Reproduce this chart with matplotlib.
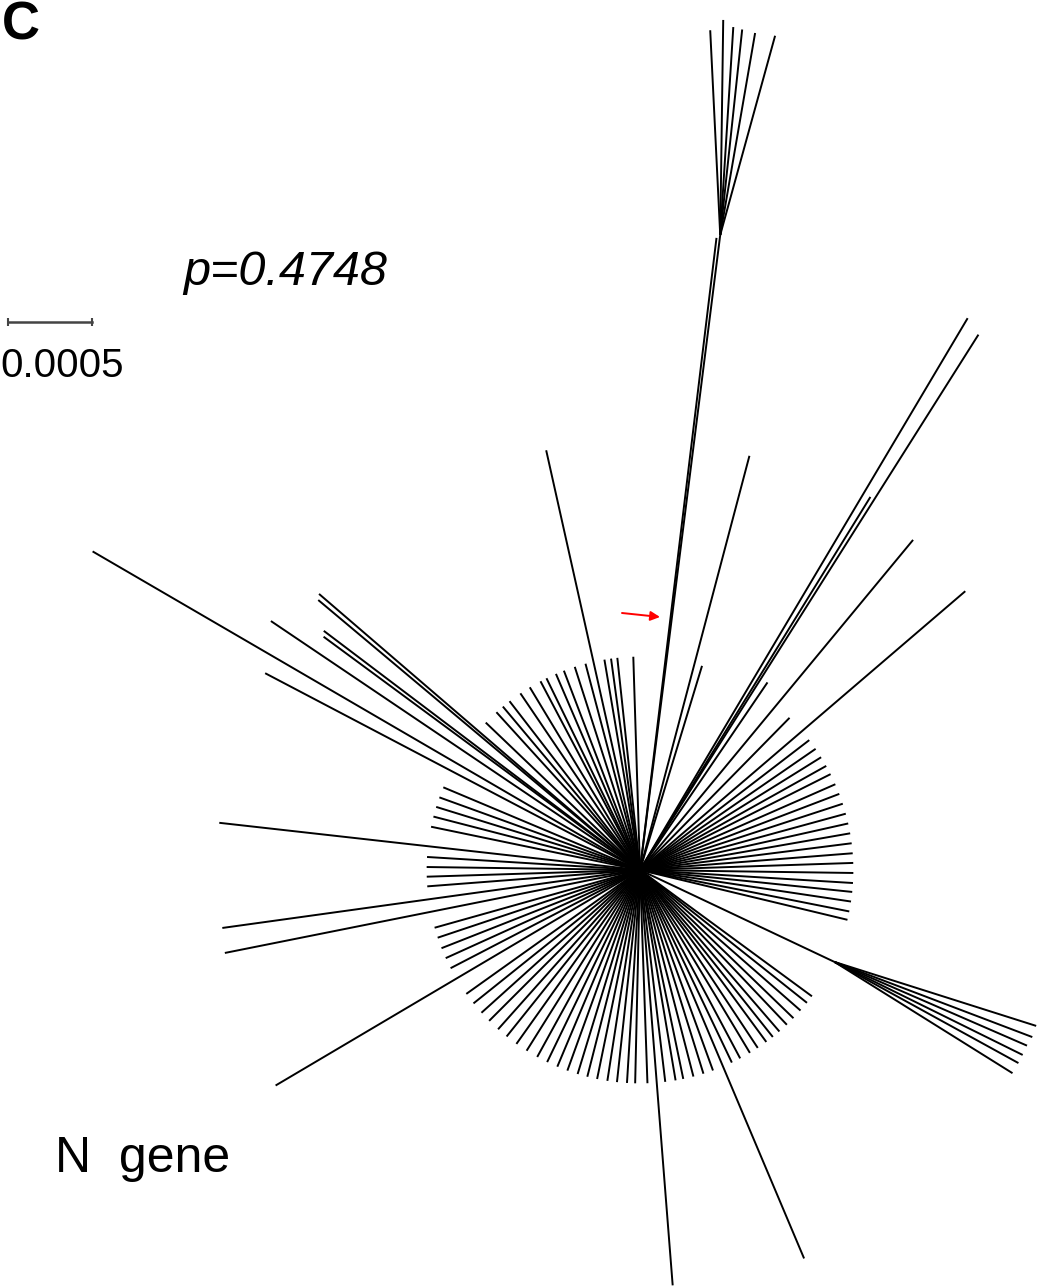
import numpy as np
import matplotlib
matplotlib.use("Agg")
import matplotlib.pyplot as plt
from matplotlib.collections import LineCollection

plt.rcParams['font.family'] = ['Liberation Sans', 'DejaVu Sans']

# unrooted tree of the N gene, star-like
# angles in degrees (0 = east, counter clockwise), lengths in substitutions/site

# short terminal branches round the centre
ring_len = 0.00127
ring_angles = [45.5, 37.5, 34.6, 31.9, 29.2, 26.7, 23.7, 20.9, 18.1, 15.3, 12.6,
               9.9, 7.2, 4.5, 1.9, -0.8, -3.5, -5.9, -8.5, -11.2, -13.5,
               -36.3, -38.5, -41.2, -44.0, -46.5, -49.2, -51.5, -53.7, -56.5,
               -59.0, -62.0, -64.5, -70.0, -72.7, -75.5, -78.3, -80.4, -83.2,
               -88.0, -91.3, -93.5, -96.2, -98.8, -101.6, -104.3, -107.0,
               -109.9, -112.8, -115.8, -118.8, -122.1, -125.4, -128.7, -131.7,
               -135.0, -138.0, -141.3, -144.5, -152.6, -155.6, -158.5, -161.5,
               -164.3, -175.6, -178.2, 179.2, 176.5, 168.3, 165.5, 162.8, 160.1,
               157.2, 136.3, 132.3, 130.0, 127.7, 124.1, 121.1, 117.8, 116.0,
               113.2, 110.9, 107.8, 104.8, 99.6, 97.8, 96.1, 91.8, 73.1]

# longer single branches
long_angles = [149.8, 146.0, 152.3, 139.3, 140.0, 142.9, 143.6, 102.6, 173.6,
               187.9, 191.3, 210.6, 274.5, 292.9, 75.2, 50.4, 40.6,
               59.3, 57.7, 58.3, 55.8]
long_lens = [0.00377, 0.00265, 0.00252, 0.00252, 0.00250, 0.00236, 0.00234,
             0.00256, 0.00252, 0.00251, 0.00252, 0.00252, 0.00248, 0.00251,
             0.00255, 0.00255, 0.00255, 0.00382, 0.00377, 0.00261, 0.00135]

# clade at the top (first stem leads to the node)
top_stem_angles = [82.8, 83.1]
top_stem_lens = [0.00381, 0.00379]
top_tip_angles = [92.8, 89.2, 86.4, 83.9, 80.2, 74.6]
top_tip_lens = [0.00122, 0.00128, 0.00124, 0.00123, 0.00122, 0.00123]

# clade at the lower right
lr_stem_angle = -25.3
lr_stem_len = 0.00128
lr_tip_angles = [-17.6, -20.8, -23.5, -26.3, -28.8, -32.0]
lr_tip_lens = [0.00126, 0.00126, 0.00125, 0.00125, 0.00125, 0.00125]

scale_len = 0.0005


def ends(x0, y0, angles, lens):
    a = np.radians(np.asarray(angles, dtype=float))
    l = np.asarray(lens, dtype=float)
    return x0 + l * np.cos(a), y0 + l * np.sin(a)


def segs(x0, y0, xs, ys):
    return [[(x0, y0), (x, y)] for x, y in zip(xs, ys)]


k = scale_len / 84  # one pixel of the page in tree units

fig = plt.figure(figsize=(10.4, 12.88), dpi=100)
ax = fig.add_axes([0, 0, 1, 1])
ax.set_xlim(-640 * k, 400 * k)
ax.set_ylim(-418 * k, 870 * k)
ax.axis('off')

lines = []
rx, ry = ends(0, 0, ring_angles, [ring_len] * len(ring_angles))
lines += segs(0, 0, rx, ry)
lx, ly = ends(0, 0, long_angles, long_lens)
lines += segs(0, 0, lx, ly)
tx, ty = ends(0, 0, top_stem_angles, top_stem_lens)
lines += segs(0, 0, tx, ty)
fx, fy = ends(tx[0], ty[0], top_tip_angles, top_tip_lens)
lines += segs(tx[0], ty[0], fx, fy)
sx, sy = ends(0, 0, [lr_stem_angle], [lr_stem_len])
lines += segs(0, 0, sx, sy)
gx, gy = ends(sx[0], sy[0], lr_tip_angles, lr_tip_lens)
lines += segs(sx[0], sy[0], gx, gy)

ax.add_collection(LineCollection(lines, colors='black', linewidths=1.4,
                                 capstyle='butt'))

# red arrow
ax.annotate('', xy=(20 * k, 253 * k), xytext=(-18 * k, 257 * k),
            arrowprops=dict(arrowstyle='-|>', color='red', lw=1.4,
                            mutation_scale=14, shrinkA=0, shrinkB=0))

# scale bar
bx, by = -632 * k, 548 * k
ax.plot([bx, bx + scale_len], [by, by], color='#444444', lw=1.8,
        marker='|', markersize=6, markeredgewidth=1.5)

fig.text(0.0, 1 - 377 / 1288, '0.0005', fontsize=29, ha='left', va='baseline')
fig.text(183 / 1040, 1 - 285 / 1288, 'p=0.4748', fontsize=35,
         style='italic', ha='left', va='baseline')
fig.text(2 / 1040, 1 - 40 / 1288, 'C', fontsize=38, fontweight='bold',
         ha='left', va='baseline')
fig.text(55 / 1040, 1 - 1172 / 1288, 'N  gene', fontsize=36,
         ha='left', va='baseline')

fig.savefig('out.png', dpi=100, facecolor='white')
